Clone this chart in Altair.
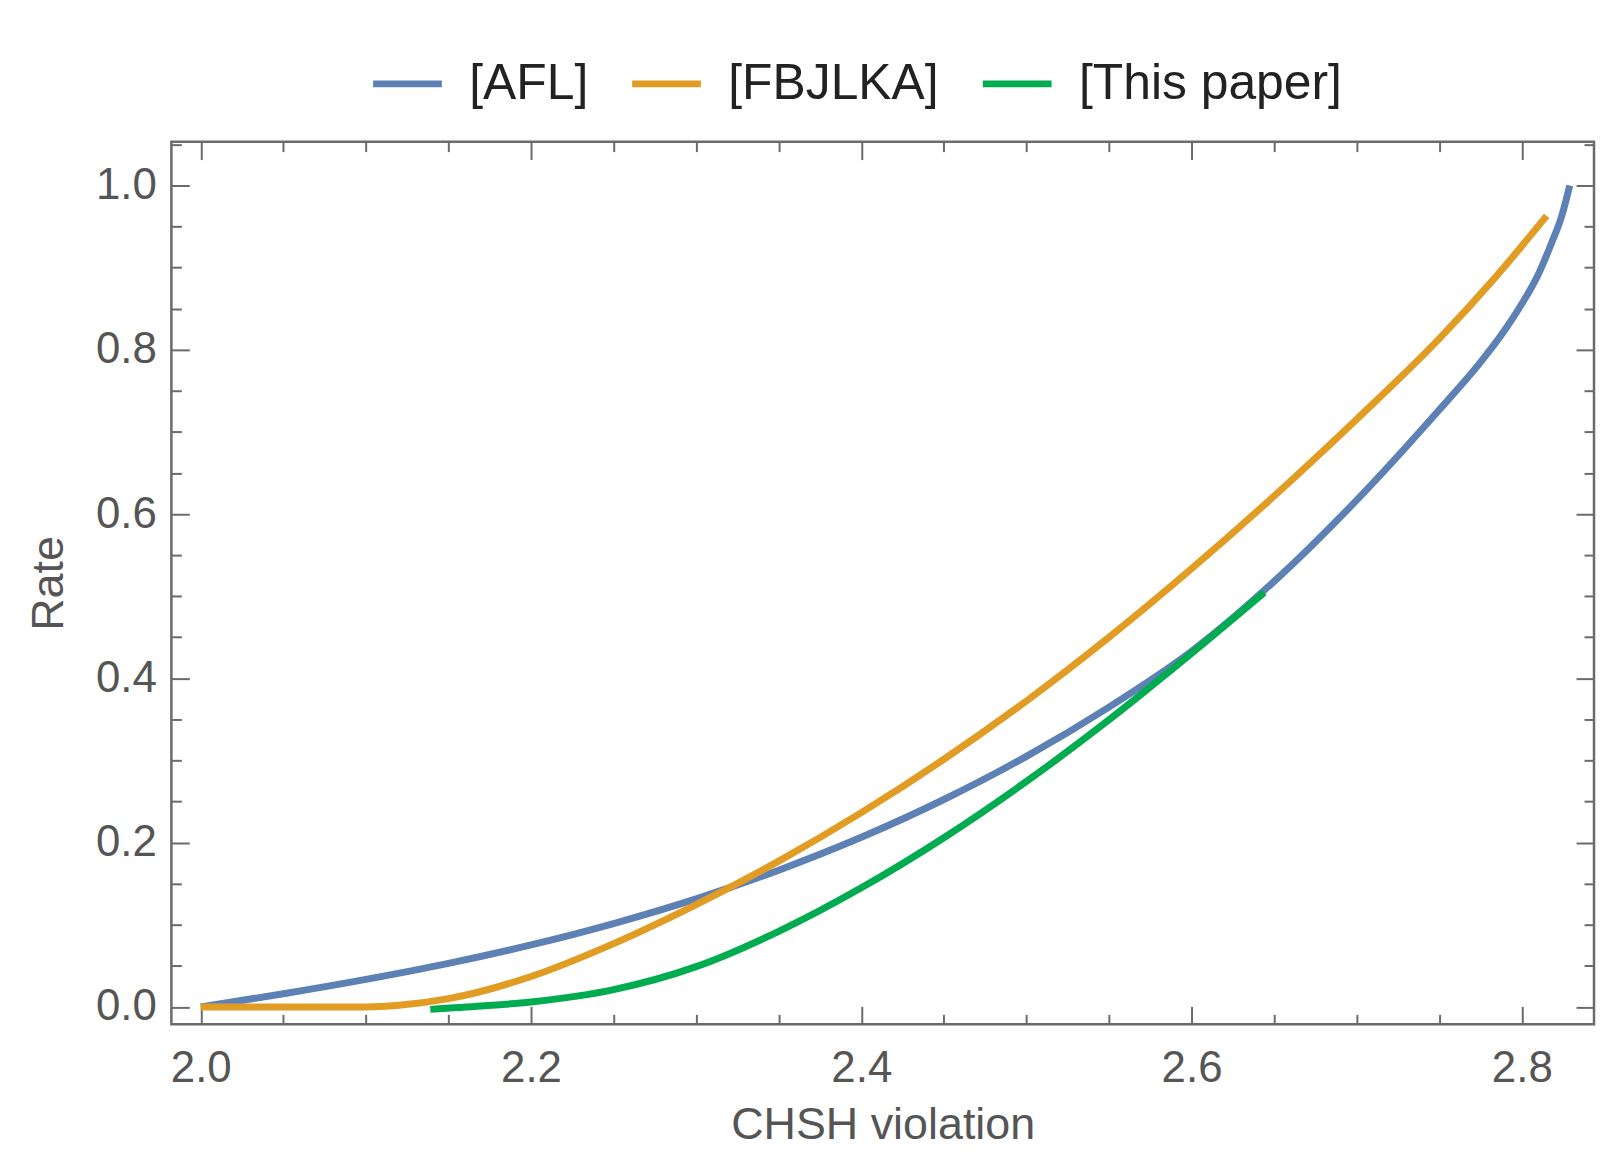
import altair as alt
import pandas as pd

# ---------------- data ----------------
series_names = ["[AFL]", "[FBJLKA]", "[This paper]"]
series_colors = ["#5E81B5", "#E19C24", "#00AC4F"]
series_widths = [7, 7, 6]

afl_x = [2.00, 2.05, 2.10, 2.15, 2.20, 2.25, 2.30, 2.35, 2.40, 2.45, 2.50,
         2.55, 2.60, 2.65, 2.70, 2.75, 2.775, 2.79, 2.80, 2.81, 2.818, 2.824, 2.829]
afl_y = [0.000, 0.016, 0.0335, 0.053, 0.0755, 0.1015, 0.1315, 0.1665, 0.2065, 0.2525, 0.305,
         0.365, 0.433, 0.518, 0.617, 0.727, 0.785, 0.825, 0.856, 0.892, 0.930, 0.962, 1.000]

fbj_x = [2.00, 2.05, 2.10, 2.12, 2.15, 2.20, 2.25, 2.30, 2.35, 2.40, 2.45,
         2.50, 2.55, 2.60, 2.65, 2.70, 2.75, 2.783, 2.815]
fbj_y = [0.000, 0.000, 0.000, 0.002, 0.010, 0.037, 0.077, 0.1245, 0.1775, 0.2365, 0.3015,
         0.3725, 0.450, 0.5335, 0.622, 0.7155, 0.8135, 0.886, 0.963]

new_x = [2.139, 2.17, 2.20, 2.25, 2.30, 2.35, 2.40, 2.45, 2.50, 2.55, 2.60, 2.644]
new_y = [-0.003, 0.001, 0.006, 0.021, 0.049, 0.092, 0.145, 0.206, 0.2745, 0.3495, 0.4305, 0.5045]

x_major = [2.0, 2.2, 2.4, 2.6, 2.8]
x_minor = [2.05, 2.1, 2.15, 2.25, 2.3, 2.35, 2.45, 2.5, 2.55, 2.65, 2.7, 2.75]
y_major = [0.0, 0.2, 0.4, 0.6, 0.8, 1.0]
y_minor = [0.05, 0.1, 0.15, 0.25, 0.3, 0.35, 0.45, 0.5, 0.55, 0.65, 0.7, 0.75,
           0.85, 0.9, 0.95, 1.05]

x_domain = [1.9822, 2.8437]
y_domain = [-0.0212, 1.0534]

rows = []
for name, xs, ys in zip(series_names, [afl_x, fbj_x, new_x], [afl_y, fbj_y, new_y]):
    for i, (xv, yv) in enumerate(zip(xs, ys)):
        rows.append({"x": xv, "y": yv, "series": name, "order": i})
df = pd.DataFrame(rows)

# ---------------- styling ----------------
FRAME = "#6b6b6b"
TXT = "#555555"
FONT = "Liberation Sans"
MAJ = 18
MIN = 10

xscale = alt.Scale(domain=x_domain, nice=False, zero=False)
yscale = alt.Scale(domain=y_domain, nice=False, zero=False)


def tick_axis(orient, values, size, labels=False, **kw):
    return alt.Axis(orient=orient, values=values, tickSize=size, offset=-size,
                    domain=False, grid=False, labels=labels, tickColor=FRAME,
                    tickWidth=2, **kw)


base = alt.Chart(df)

lines = base.mark_line(interpolate="monotone").encode(
    x=alt.X("x:Q", scale=xscale,
            axis=tick_axis("bottom", x_major, MAJ, labels=True, format=".1f",
                           labelFontSize=44, labelPadding=22, labelColor=TXT,
                           labelFont=FONT, title="CHSH violation",
                           titleFontSize=45, titleFont=FONT, titleColor=TXT,
                           titleFontWeight="normal", titleBaseline="alphabetic",
                           titleY=133)),
    y=alt.Y("y:Q", scale=yscale,
            axis=tick_axis("left", y_major, MAJ, labels=True, format=".1f",
                           labelFontSize=44, labelPadding=15, labelColor=TXT,
                           labelFont=FONT, title="Rate",
                           titleFontSize=45, titleFont=FONT, titleColor=TXT,
                           titleFontWeight="normal", titleBaseline="alphabetic",
                           titleAngle=270, titleX=-127)),
    color=alt.Color("series:N",
                    scale=alt.Scale(domain=series_names, range=series_colors),
                    legend=alt.Legend(title=None, orient="none", legendX=199,
                                      legendY=-96, direction="horizontal",
                                      symbolType="stroke", symbolSize=4761,
                                      symbolStrokeWidth=6, labelFontSize=50,
                                      labelOffset=24, columnPadding=29,
                                      labelLimit=600, labelColor="#222222",
                                      labelFont=FONT, padding=0)),
    strokeWidth=alt.StrokeWidth("series:N",
                                scale=alt.Scale(domain=series_names, range=series_widths),
                                legend=None),
    order="order:Q",
    detail="series:N",
)


def ghost(xaxis, yaxis):
    return base.mark_line(opacity=0).encode(
        x=alt.X("x:Q", scale=xscale, axis=xaxis),
        y=alt.Y("y:Q", scale=yscale, axis=yaxis),
        detail="series:N",
    )


minor_bl = ghost(tick_axis("bottom", x_minor, MIN, title=None),
                 tick_axis("left", y_minor, MIN, title=None))
major_tr = ghost(tick_axis("top", x_major, MAJ, title=None),
                 tick_axis("right", y_major, MAJ, title=None))
minor_tr = ghost(tick_axis("top", x_minor, MIN, title=None),
                 tick_axis("right", y_minor, MIN, title=None))

chart = alt.layer(lines, minor_bl, major_tr, minor_tr).resolve_axis(
    x="independent", y="independent"
).properties(
    width=1428, height=886,
    autosize=alt.AutoSizeParams(type="none"),
    padding={"left": 164, "top": 132, "right": 2, "bottom": 125},
    background="white",
).configure_view(
    stroke=FRAME, strokeWidth=2.5
)

chart.save("out.html", embed_options={"renderer": "svg", "actions": False})
